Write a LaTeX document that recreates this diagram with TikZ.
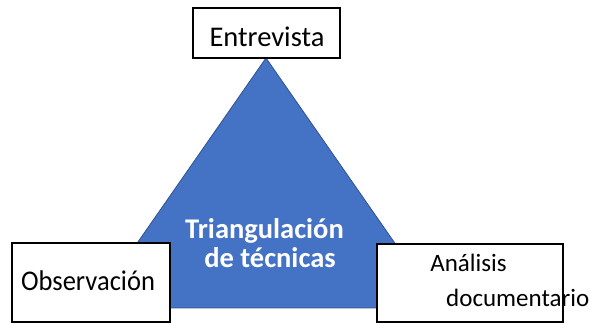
\documentclass[tikz,border=0pt]{standalone}
\usepackage{fontspec}
\setmainfont{Carlito}
\newfontfamily\narrowcarlito[FakeStretch=0.93]{Carlito}
\definecolor{triblue}{HTML}{4472C4}
\definecolor{triedge}{HTML}{2F528F}
\begin{document}
\begin{tikzpicture}[x=1pt,y=-1pt,
  boxst/.style={draw=black,line width=1.6pt,fill=white,inner sep=0pt},
  lbl/.style={anchor=base,inner sep=0pt,font=\fontsize{28.5}{32}\selectfont},
  lblsmall/.style={anchor=base,inner sep=0pt,font=\fontsize{25}{30}\selectfont},
  trilbl/.style={anchor=base,inner sep=0pt,text=white,font=\fontsize{28.5}{32}\selectfont\bfseries}]
\useasboundingbox (0,0) rectangle (595,323);
% triangle
\coordinate (apex) at (266,58);
\coordinate (bl) at (92,308);
\coordinate (br) at (440,308);
\fill[triblue,draw=triedge,line width=0.8pt] (apex) -- (br) -- (bl) -- cycle;
\node[trilbl] (t1) at (264.5,239) {Triangulación};
\node[trilbl] (t2) at (270,268) {de técnicas};
% boxes
\node[boxst,minimum width=147pt,minimum height=50pt] (ebox) at (266.5,33) {};
\node[lbl] (etext) at (267,47) {Entrevista};
\node[boxst,minimum width=158pt,minimum height=79pt] (obox) at (91,282.5) {};
\node[lbl,font=\fontsize{28.5}{32}\narrowcarlito] (otext) at (88,291) {Observación};
\node[boxst,minimum width=186pt,minimum height=78pt] (abox) at (470,283) {};
\node[lblsmall] (atext1) at (468.5,272) {Análisis};
\node[lblsmall,anchor=base west] (atext2) at (446,307) {documentario};
\end{tikzpicture}
\end{document}
